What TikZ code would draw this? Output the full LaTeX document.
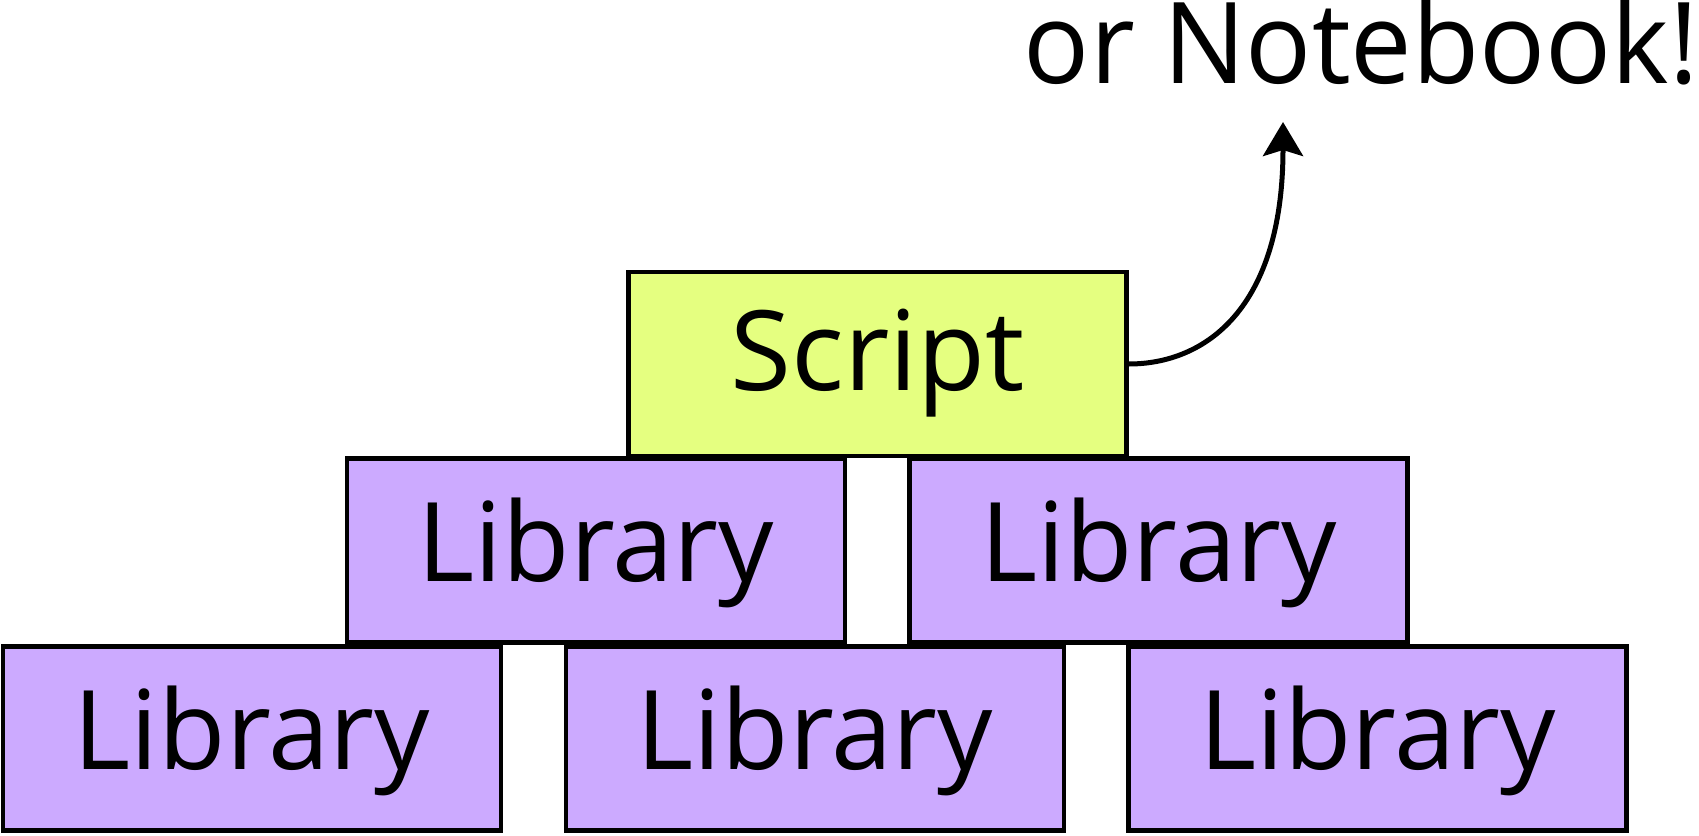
\documentclass[tikz,border=0pt]{standalone}
\usepackage{fontspec}
\setmainfont{Open Sans}
\newfontfamily\nbfont[FakeStretch=0.97]{Open Sans}
\usetikzlibrary{arrows.meta}
\definecolor{scriptfill}{HTML}{E5FF80}
\definecolor{libfill}{HTML}{CCAAFF}
\begin{document}
\begin{tikzpicture}[x=1pt,y=-1pt,
  box/.style={draw=black, line width=4.5pt, minimum width=498pt, minimum height=184pt,
    inner sep=0pt, text height=82pt, text depth=21pt, font=\fontsize{110}{125}\selectfont},
  libbox/.style={box, fill=libfill},
  scriptbox/.style={box, fill=scriptfill, text height=73pt, font=\fontsize{111}{125}\selectfont},
  bigtext/.style={inner sep=0pt, font=\nbfont\fontsize{113}{130}\selectfont},
  flow/.style={line width=5pt, -{Stealth[length=34pt,width=40pt,inset=6pt]}}]
\useasboundingbox (0,0) rectangle (1699,835);
\node[libbox] (b1) at (252,738.5) {Library};
\node[libbox] (b2) at (815,738.5) {Library};
\node[libbox] (b3) at (1377.5,738.5) {Library};
\node[libbox] (m1) at (596,550.5) {Library};
\node[libbox] (m2) at (1158.5,550.5) {Library};
\node[scriptbox] (script) at (877.5,364) {Script};
\node[bigtext, anchor=base east] (nb) at (1699,83) {or Notebook!};
\coordinate (tip) at (1283,122);
\draw[flow] (script.east) .. controls (1205,364) and (1283,309) .. (tip);
\end{tikzpicture}
\end{document}
